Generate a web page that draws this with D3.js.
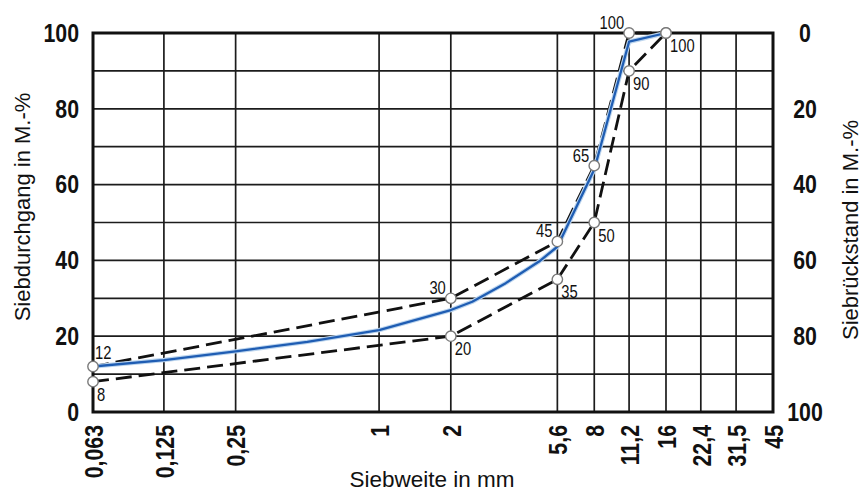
<!DOCTYPE html>
<html><head><meta charset="utf-8">
<script src="https://cdn.jsdelivr.net/npm/d3@7/dist/d3.min.js"></script>
<style>
body{margin:0;background:#fff;}
svg{display:block;}
text{font-family:"Liberation Sans",Arial,sans-serif;}
</style></head>
<body>
<svg id="chart" width="866" height="493"></svg>
<script>
// ---- data ----
const sieveTicks = [0.063, 0.125, 0.25, 1, 2, 5.6, 8, 11.2, 16, 22.4, 31.5, 45];
const sieveLabels = ["0,063","0,125","0,25","1","2","5,6","8","11,2","16","22,4","31,5","45"];
const passTicks = [0, 20, 40, 60, 80, 100];
const retainTicks = [0, 20, 40, 60, 80, 100];
const gridLevels = [10, 20, 30, 40, 50, 60, 70, 80, 90];

const upperSizes = [0.063, 2, 5.6, 8, 11.2, 16];
const upperValues = [12, 30, 45, 65, 100, 100];
const lowerSizes = [0.063, 2, 5.6, 8, 11.2, 16];
const lowerValues = [8, 20, 35, 50, 90, 100];
const curveSizes = [0.063, 0.125, 0.25, 0.5, 1, 2, 2.46, 3.4, 4.69, 5.6, 8, 11.2, 16];
const curveValues = [12, 13.7, 16, 18.5, 21.6, 26.9, 29.1, 34, 39.7, 43.6, 64, 97.7, 100];

// label placement (style)
const upperPlace = ["ne","nw","nw","nw","nw","se"];
const lowerPlace = ["se","se","se","se","se","none"];

// ---- layout ----
const L = 93, R = 773, T = 33, B = 412;
const SX = 0.82; // horizontal condensing of the font
const svg = d3.select("#chart");
const x = d3.scaleLog().domain([0.063, 45]).range([L, R]);
const y = d3.scaleLinear().domain([0, 100]).range([B, T]);
const y2 = d3.scaleLinear().domain([0, 100]).range([T, B]);

const grid = svg.append("g").attr("stroke", "#1c1c1c").attr("stroke-width", 1.7);
grid.selectAll("line.v").data(sieveTicks.slice(1, -1)).join("line")
  .attr("x1", d => x(d)).attr("x2", d => x(d)).attr("y1", T).attr("y2", B);
grid.selectAll("line.h").data(gridLevels).join("line")
  .attr("x1", L).attr("x2", R).attr("y1", d => y(d)).attr("y2", d => y(d));

svg.append("rect").attr("x", L).attr("y", T).attr("width", R - L).attr("height", B - T)
  .attr("fill", "none").attr("stroke", "#111").attr("stroke-width", 3);

// axes (text only)
const gl = svg.append("g").attr("transform", `translate(${L - 14},0)`)
  .call(d3.axisLeft(y).tickValues(passTicks).tickSize(0).tickPadding(0).tickFormat(d3.format("d")));
gl.selectAll("text").attr("x", 0).attr("transform", `scale(${SX},1)`);
const gr = svg.append("g").attr("transform", `translate(${R + 32},0)`)
  .call(d3.axisRight(y2).tickValues(retainTicks).tickSize(0).tickPadding(0).tickFormat(d3.format("d")));
gr.selectAll("text").attr("text-anchor", "middle").attr("x", 0).attr("transform", `scale(${SX},1)`);
const gb = svg.append("g").attr("transform", `translate(0,${B + 13})`)
  .call(d3.axisBottom(x).tickValues(sieveTicks).tickSize(0).tickPadding(0)
    .tickFormat((d, i) => sieveLabels[i]));
gb.selectAll("text").attr("text-anchor", "end").attr("transform", `rotate(-90) scale(${SX},1)`)
  .attr("x", 0).attr("y", 0).attr("dy", "0.36em");
[gl, gr, gb].forEach(g => {
  g.select(".domain").remove();
  g.selectAll("text").attr("font-family", "Liberation Sans, Arial, sans-serif")
    .attr("font-size", 26).attr("font-weight", "bold").attr("fill", "#111");
});

// lines
const line = (sx) => d3.line().x((d, i) => x(sx[i])).y(d => y(d));
const dashStyle = p => p.attr("fill", "none").attr("stroke", "#111").attr("stroke-width", 2.8)
  .attr("stroke-dasharray", "16,7");
svg.append("path").datum(upperValues).attr("d", line(upperSizes)).call(dashStyle);
svg.append("path").datum(lowerValues).attr("d", line(lowerSizes)).call(dashStyle);
svg.append("path").datum(curveValues).attr("d", line(curveSizes))
  .attr("fill", "none").attr("stroke", "#bcd5ee").attr("stroke-width", 4.5).attr("stroke-linejoin", "round");
svg.append("path").datum(curveValues).attr("d", line(curveSizes))
  .attr("fill", "none").attr("stroke", "#1f5db3").attr("stroke-width", 2.3).attr("stroke-linejoin", "round");

// markers and labels
function points(sizes, values, place) {
  const g = svg.append("g");
  g.selectAll("circle").data(values).join("circle")
    .attr("cx", (d, i) => x(sizes[i])).attr("cy", d => y(d)).attr("r", 5.2)
    .attr("fill", "#fff").attr("stroke", "#7a7a7a").attr("stroke-width", 1.4);
  g.selectAll("text").data(values).join("text")
    .attr("font-size", 18).attr("fill", "#111")
    .each(function (d, i) {
      const p = place[i];
      const cx = x(sizes[i]), cy = y(d);
      const t = d3.select(this);
      if (p === "none") { t.remove(); return; }
      t.text(d);
      let tx = cx, ty = cy, anchor = "start";
      if (p === "ne") { tx = cx + 2; ty = cy - 8; }
      else if (p === "nw") { tx = cx - 5; ty = cy - 4; anchor = "end"; }
      else if (p === "se") { tx = cx + 4; ty = cy + 19; }
      t.attr("text-anchor", anchor).attr("transform", `translate(${tx},${ty}) scale(${SX},1)`);
    });
}
points(upperSizes, upperValues, upperPlace);
points(lowerSizes, lowerValues, lowerPlace);

// titles
svg.append("text").attr("transform", "translate(30,207) rotate(-90)").attr("text-anchor", "middle")
  .attr("font-size", 22).attr("fill", "#111").text("Siebdurchgang in M.-%");
svg.append("text").attr("transform", "translate(858,230) rotate(-90)").attr("text-anchor", "middle")
  .attr("font-size", 22).attr("fill", "#111").text("Siebrückstand in M.-%");
svg.append("text").attr("x", 432).attr("y", 487).attr("text-anchor", "middle")
  .attr("font-size", 22.5).attr("fill", "#111").text("Siebweite in mm");
</script>
</body></html>
